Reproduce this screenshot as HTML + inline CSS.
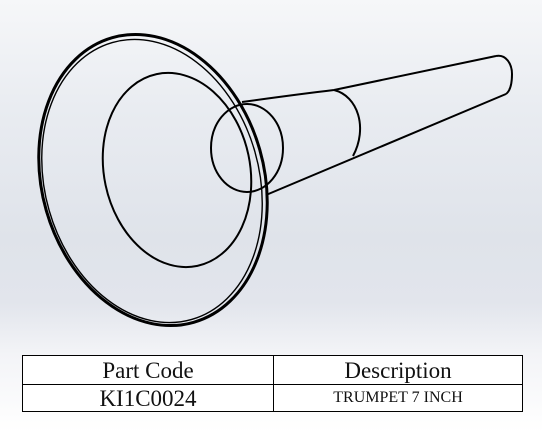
<!DOCTYPE html>
<html><head><meta charset="utf-8"><style>
html,body{margin:0;padding:0;}
body{width:542px;height:432px;overflow:hidden;position:relative;font-family:"Liberation Serif",serif;
background:linear-gradient(180deg,#f6f7f9 0%,#e9ecf1 25%,#dfe3ea 55%,#e2e5ec 70%,#f3f4f7 82%,#ffffff 100%);}
svg{position:absolute;left:0;top:0;}
table{position:absolute;left:22px;top:355px;width:501px;border-collapse:collapse;background:#fff;}
td{border:1px solid #000;text-align:center;padding:0;color:#111;line-height:1;}
</style></head><body>
<svg width="542" height="340">
<g fill="none" stroke="#000" stroke-width="2">
<ellipse cx="153" cy="180" rx="111" ry="148" transform="rotate(-16 153 180)" stroke-width="3"/>
<ellipse cx="152" cy="181" rx="107" ry="144" transform="rotate(-16 152 181)" stroke-width="1.4"/>
<ellipse cx="177" cy="170" rx="73" ry="98" transform="rotate(-12 177 170)"/>
<ellipse cx="247" cy="148" rx="36" ry="44"/>
<path d="M242 102 Q300 94 334 90 L496 56"/>
<line x1="266" y1="195" x2="506" y2="94"/>
<path d="M496 56 C506 54 512 64 512 74 C512 84 510 91 506 94"/>
<path d="M334 90 C358 96 368 128 353 156"/>
</g>
</svg>
<table>
<tr style="height:29px"><td style="width:250px;font-size:23px">Part Code</td><td style="font-size:23px">Description</td></tr>
<tr style="height:27px"><td style="font-size:23px">KI1C0024</td><td style="font-size:16px">TRUMPET 7 INCH</td></tr>
</table>
</body></html>
